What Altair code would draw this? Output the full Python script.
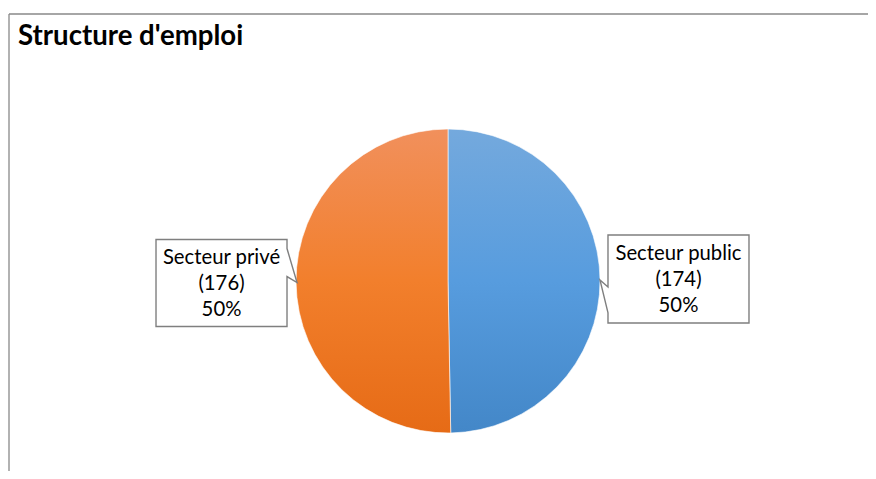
import altair as alt
import pandas as pd
import math

# ---- data ----
secteurs = ["Secteur public", "Secteur privé"]
effectifs = [174, 176]
ordre = [0, 1]
titre = "Structure d'emploi"

df = pd.DataFrame({"secteur": secteurs, "effectif": effectifs, "ordre": ordre})
total = sum(effectifs)

# ---- layout / style constants ----
W, H = 860, 463
CX, CY, R = 440, 273, 152
LAB_R = 228.5
LAB_DX = 2
FONT = "Lato"
BORDER = "#898989"
LINE_H = 26

path_public = "M-70.5,-44 L70.5,-44 L70.5,44 L-70.5,44 L-70.5,34 L-78.5,1 L-70.5,8 Z"
path_prive = "M-65.5,-43.5 L65.5,-43.5 L65.5,-34.5 L75.5,-0.5 L65.5,-6.5 L65.5,43.5 L-65.5,43.5 Z"


def grad(c0, c1, c2):
    return {
        "gradient": "linear", "x1": 0, "y1": 0, "x2": 0, "y2": 1,
        "stops": [
            {"offset": 0, "color": c0},
            {"offset": 0.5, "color": c1},
            {"offset": 1, "color": c2},
        ],
    }


fills = {
    "Secteur public": grad("#74A9DD", "#579CDE", "#4387C8"),
    "Secteur privé": grad("#F1905C", "#F27F2C", "#E66B16"),
}

base = (
    alt.Chart(df)
    .transform_joinaggregate(total="sum(effectif)")
    .transform_stack(stack="effectif", groupby=[], as_=["debut", "fin"],
                     sort=[alt.SortField("ordre", order="ascending")])
    .transform_calculate(
        pct="datum.effectif / datum.total",
        mid="(datum.debut + datum.fin) / 2 / datum.total * 2 * PI",
    )
)

theta_scale = alt.Scale(domain=[0, total], range=[0, 2 * math.pi])

slices = []
for s in secteurs:
    slices.append(
        base.transform_filter(alt.datum.secteur == s)
        .mark_arc(radius=R, fill=fills[s], stroke="white", strokeWidth=0.6)
        .encode(
            theta=alt.Theta("debut:Q", scale=theta_scale),
            theta2="fin:Q",
            x=alt.value(CX),
            y=alt.value(CY),
        )
    )

labpos = base.transform_calculate(
    lx=f"{CX + LAB_DX} + {LAB_R} * sin(datum.mid)",
    ly=f"{CY} - {LAB_R} * cos(datum.mid)",
    label="datum.secteur + '\\n(' + datum.effectif + ')\\n' + format(datum.pct, '.0%')",
)

callouts = labpos.mark_point(
    filled=True, fill="white", stroke="#7F7F7F", strokeWidth=1.4,
    size=4, opacity=1, fillOpacity=1,
).encode(
    x=alt.X("lx:Q", scale=None),
    y=alt.Y("ly:Q", scale=None),
    shape=alt.Shape("secteur:N",
                    scale=alt.Scale(domain=secteurs, range=[path_public, path_prive]),
                    legend=None),
)

labels = labpos.mark_text(
    font=FONT, fontSize=20.3, lineHeight=LINE_H, lineBreak="\n",
    align="center", baseline="middle", dy=-LINE_H + 1, color="#000000",
).encode(
    x=alt.X("lx:Q", scale=None),
    y=alt.Y("ly:Q", scale=None),
    text="label:N",
)

one = pd.DataFrame({"t": [titre]})
top_rule = alt.Chart(one).mark_rule(color=BORDER, strokeWidth=1.3).encode(
    x=alt.value(1), x2=alt.value(W), y=alt.value(6))
left_rule = alt.Chart(one).mark_rule(color=BORDER, strokeWidth=1.3).encode(
    x=alt.value(1), y=alt.value(6), y2=alt.value(H))

title = alt.Chart(one).mark_text(
    font=FONT, fontSize=27.6, fontWeight="bold", align="left",
    baseline="alphabetic", color="#000000",
).encode(text="t:N", x=alt.value(10), y=alt.value(37))

chart = (
    alt.layer(top_rule, left_rule, title, *slices, callouts, labels)
    .properties(width=W, height=H, autosize=alt.AutoSizeParams(type="none"),
                padding=0, background="white")
    .configure_view(stroke=None)
)

chart.save("out.html", embed_options={"renderer": "svg", "actions": False})
